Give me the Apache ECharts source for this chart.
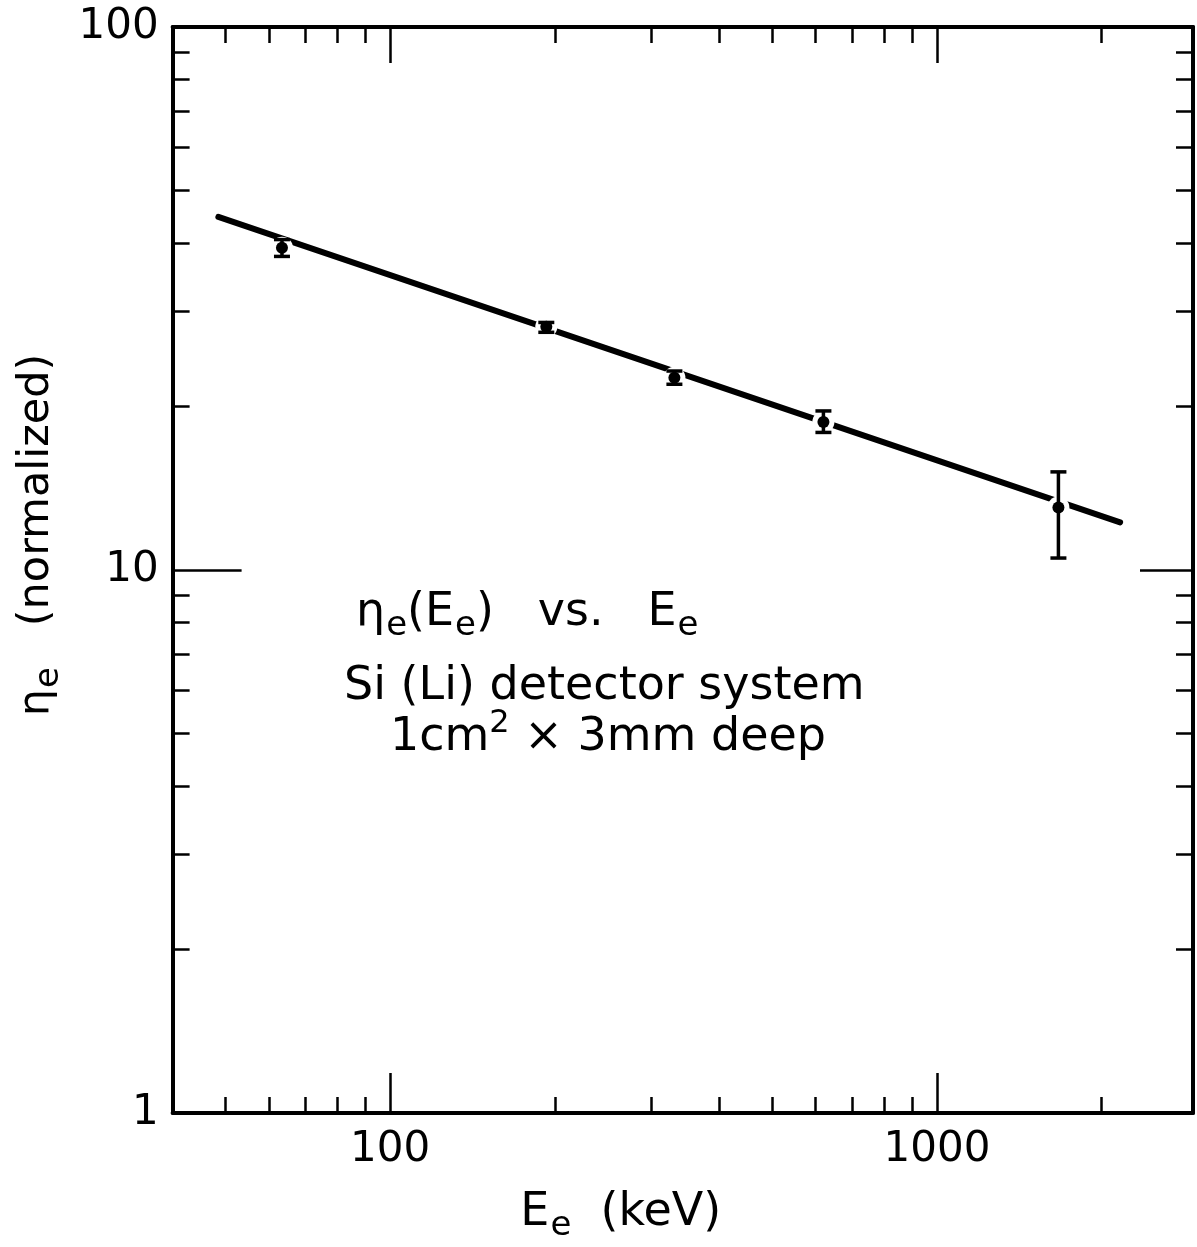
<!DOCTYPE html>
<html>
<head>
<meta charset="utf-8">
<script src="https://cdn.jsdelivr.net/npm/echarts@6.0.0/dist/echarts.min.js"></script>
<style>
    html, body { margin: 0; padding: 0; background: #fff; }
    #chart { width: 1197px; height: 1247px; }
</style>
</head>
<body>
<div id="chart"></div>
<script>
// electron energy (keV) and normalized efficiency
const energy = [63.4, 193, 331, 620, 1668]
const eta = [39.2, 28.05, 22.6, 18.74, 13.04]
const etaLow = [37.8, 27.4, 21.98, 17.92, 10.52]
const etaHigh = [40.6, 28.57, 23.25, 19.63, 15.16]

// fitted straight line (log-log), end points
const fitEnergy = [48.5, 2163]
const fitEta = [44.7, 12.24]

// ticks and labels
const xMinorTicks = [50, 60, 70, 80, 90, 200, 300, 400, 500, 600, 700, 800, 900, 2000]
const xMajorTicks = [100, 1000]
const xLabels = [100, 1000]
const yMinorTicks = [2, 3, 4, 5, 6, 7, 8, 9, 20, 30, 40, 50, 60, 70, 80, 90]
const yMajorTicks = [10]
const yLabels = [1, 10, 100]

const FONT = 'DejaVu Sans'
const INK = '#000'

let chart = echarts.init(document.getElementById('chart'), null, {renderer: 'canvas'})

function logX (pos, ticks, len, showLine, extra) {
    return Object.assign({
        type: 'log',
        logBase: 10,
        min: 40,
        max: 2940,
        position: pos,
        axisLine: {show: showLine, onZero: false, lineStyle: {color: INK, width: 4}},
        axisTick: {show: true, inside: true, length: len, customValues: ticks, lineStyle: {color: INK, width: 2.5}},
        axisLabel: {show: false},
        splitLine: {show: false},
        minorTick: {show: false}
    }, extra || {})
}

function logY (pos, ticks, len, showLine, extra) {
    return Object.assign({
        type: 'log',
        logBase: 10,
        min: 1,
        max: 100,
        position: pos,
        axisLine: {show: showLine, onZero: false, lineStyle: {color: INK, width: 4}},
        axisTick: {show: true, inside: true, length: len, customValues: ticks, lineStyle: {color: INK, width: 2.5}},
        axisLabel: {show: false},
        splitLine: {show: false},
        minorTick: {show: false}
    }, extra || {})
}

let textMain = {fontFamily: FONT, fontSize: 46, color: INK, lineHeight: 60, verticalAlign: 'middle'}
let textSub = {fontFamily: FONT, fontSize: 34, color: INK, lineHeight: 30, verticalAlign: 'bottom', padding: [0, 0, 0, 1]}
let textSup = {fontFamily: FONT, fontSize: 32, color: INK, lineHeight: 34, verticalAlign: 'top'}

let option = {
    animation: false,
    backgroundColor: '#fff',
    grid: {left: 172.6, right: 4, top: 27, bottom: 134, containLabel: false, outerBoundsMode: 'none'},
    xAxis: [
        logX('bottom', xMinorTicks, 16, true, {
            axisLabel: {
                show: true, customValues: xLabels, fontFamily: FONT, fontSize: 42, color: INK, margin: 16,
                formatter: function (v) { return String(v) }
            },
            name: '{m|E}{s|e}{m|  (keV)}',
            nameLocation: 'middle',
            nameGap: 70,
            nameTextStyle: {padding: [0, 124, 0, 0], rich: {m: textMain, s: textSub}}
        }),
        logX('bottom', xMajorTicks, 40, false),
        logX('top', xMinorTicks, 16, true),
        logX('top', xMajorTicks, 36, false)
    ],
    yAxis: [
        logY('left', yMinorTicks, 17, true, {
            axisLabel: {
                show: true, customValues: yLabels, fontFamily: FONT, fontSize: 42, color: INK, margin: 14,
                formatter: function (v) { return String(v) }
            },
            name: '{m|η}{s|e}{m|   (normalized)}',
            nameLocation: 'middle',
            nameRotate: 90,
            nameGap: 106,
            nameTextStyle: {padding: [0, 0, 0, 70], rich: {m: Object.assign({}, textMain, {fontSize: 43}), s: textSub}}
        }),
        logY('left', yMajorTicks, 69, false),
        logY('right', yMinorTicks, 17, true),
        logY('right', yMajorTicks, 53, false)
    ],
    graphic: [
        {
            type: 'text', left: 356, top: 590, z: 10,
            style: {text: '{m|η}{s|e}{m|(E}{s|e}{m|)   vs.   E}{s|e}', rich: {m: textMain, s: textSub}, fill: INK}
        },
        {
            type: 'text', left: 344, top: 664, z: 10,
            style: {text: 'Si (Li) detector system', fontFamily: FONT, fontSize: 46, fill: INK}
        },
        {
            type: 'text', left: 390, top: 708, z: 10,
            style: {text: '{m|1cm}{p|2}{m| × 3mm deep}', rich: {m: textMain, p: textSup}, fill: INK}
        }
    ],
    series: [
        {
            name: 'fit',
            type: 'line',
            data: fitEnergy.map((e, i) => [e, fitEta[i]]),
            symbol: 'none',
            lineStyle: {color: INK, width: 6, cap: 'round'},
            z: 2,
            silent: true
        },
        {
            // white halo leaves the small break in the fit line at each point
            name: 'halo',
            type: 'scatter',
            data: energy.map((e, i) => [e, eta[i]]),
            symbol: 'circle',
            symbolSize: 22,
            itemStyle: {color: '#fff', opacity: 1},
            z: 3,
            silent: true
        },
        {
            name: 'error',
            type: 'custom',
            data: energy.map((e, i) => [e, etaLow[i], etaHigh[i]]),
            encode: {x: 0, y: [1, 2]},
            z: 4,
            renderItem: function (params, api) {
                let lo = api.coord([api.value(0), api.value(1)])
                let hi = api.coord([api.value(0), api.value(2)])
                let w = 8
                let st = {stroke: INK, lineWidth: 3.5}
                return {
                    type: 'group',
                    children: [
                        {type: 'line', shape: {x1: lo[0], y1: lo[1], x2: hi[0], y2: hi[1]}, style: st},
                        {type: 'line', shape: {x1: lo[0] - w, y1: lo[1], x2: lo[0] + w, y2: lo[1]}, style: st},
                        {type: 'line', shape: {x1: hi[0] - w, y1: hi[1], x2: hi[0] + w, y2: hi[1]}, style: st}
                    ]
                }
            }
        },
        {
            name: 'data',
            type: 'scatter',
            data: energy.map((e, i) => [e, eta[i]]),
            symbol: 'circle',
            symbolSize: 12,
            itemStyle: {color: INK, opacity: 1},
            z: 5
        }
    ]
}

chart.setOption(option)
</script>
</body>
</html>
